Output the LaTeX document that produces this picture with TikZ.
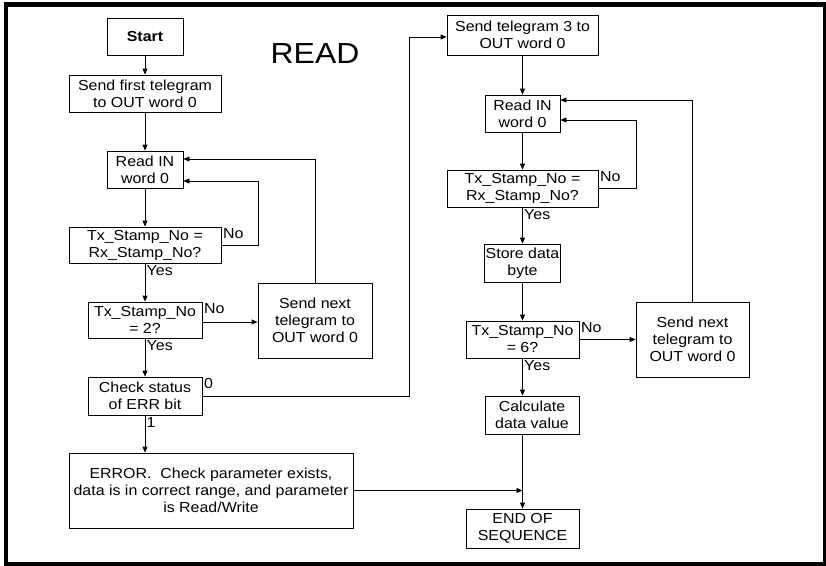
\documentclass[tikz,border=0pt]{standalone}
\usepackage{fontspec}
\setmainfont{Liberation Sans}[FakeStretch=1.1]
\usetikzlibrary{arrows.meta}

\begin{document}
\begin{tikzpicture}[x=1pt,y=-1pt,
	box/.style={draw,line width=0.8pt,align=center,inner sep=1pt,font=\fontsize{14.5}{17}\selectfont},
	lbl/.style={inner sep=1.5pt,font=\fontsize{14.5}{17}\selectfont},
	arr/.style={-{Triangle[length=6pt,width=5pt]},line width=0.8pt}]
	\useasboundingbox (0,0) rectangle (826,565);
	\draw[line width=4.5pt] (6,4.5) rectangle (825,564);
	\node (title) at (315,54) {\fontsize{29}{32}\selectfont READ};
	\node[box,minimum width=76pt,minimum height=37pt] (start) at (145,36.5) {\textbf{Start}};
	\node[box,minimum width=152pt,minimum height=37pt] (send1) at (145,93.5) {Send first telegram\\to OUT word 0};
	\node[box,minimum width=76pt,minimum height=37pt] (readA) at (145,169.5) {Read IN\\word 0};
	\node[box,minimum width=152pt,minimum height=36pt] (cmpA) at (145,245) {Tx\_Stamp\_No =\\Rx\_Stamp\_No?};
	\node[box,minimum width=114pt,minimum height=36pt] (twoA) at (145,320) {Tx\_Stamp\_No\\= 2?};
	\node[box,minimum width=114pt,minimum height=75pt] (nextA) at (315,320.5) {Send next\\telegram to\\OUT word 0};
	\node[box,minimum width=114pt,minimum height=38pt] (errbit) at (145,396) {Check status\\of ERR bit};
	\node[box,minimum width=284pt,minimum height=75pt] (error) at (211,490.5) {ERROR.\ \ Check parameter exists,\\data is in correct range, and parameter\\is Read/Write};
	\node[box,minimum width=151pt,minimum height=40pt] (send3) at (522.5,35) {Send telegram 3 to\\OUT word 0};
	\node[box,minimum width=75pt,minimum height=37pt] (readB) at (522.5,113.5) {Read IN\\word 0};
	\node[box,minimum width=151pt,minimum height=37pt] (cmpB) at (522.5,188.5) {Tx\_Stamp\_No =\\Rx\_Stamp\_No?};
	\node[box,minimum width=75pt,minimum height=38pt] (store) at (522.5,263) {Store data\\byte};
	\node[box,minimum width=113pt,minimum height=37pt] (sixB) at (522.5,339.5) {Tx\_Stamp\_No\\= 6?};
	\node[box,minimum width=113pt,minimum height=75pt] (nextB) at (692.5,339.5) {Send next\\telegram to\\OUT word 0};
	\node[box,minimum width=94pt,minimum height=38pt] (calc) at (532,415) {Calculate\\data value};
	\node[box,minimum width=113pt,minimum height=39pt] (endseq) at (522.5,528.5) {END OF\\SEQUENCE};
	\node[lbl,anchor=north west] (noA) at (cmpA.north east) {No};
	\node[lbl,anchor=north west] (yesA) at (cmpA.south) {Yes};
	\node[lbl,anchor=north west] (noTwo) at (twoA.north east) {No};
	\node[lbl,anchor=north west] (yesTwo) at (twoA.south) {Yes};
	\node[lbl,anchor=north west] (zero) at (errbit.north east) {0};
	\node[lbl,anchor=north west] (one) at (errbit.south) {1};
	\node[lbl,anchor=north west] (noB) at (cmpB.north east) {No};
	\node[lbl,anchor=north west] (yesB) at (cmpB.south) {Yes};
	\node[lbl,anchor=north west] (noSix) at (sixB.north east) {No};
	\node[lbl,anchor=north west] (yesSix) at (sixB.south) {Yes};
	\draw[arr] (start) -- (send1);
	\draw[arr] (send1) -- (readA);
	\draw[arr] (readA) -- (cmpA);
	\draw[arr] (cmpA.east) -- ++(37,0) |- ([yshift=-11.5pt]readA.east);
	\draw[arr] (cmpA) -- (twoA);
	\draw[arr] ([yshift=-2pt]twoA.east) -- ([yshift=-2pt]twoA.east -| nextA.west);
	\draw[arr] (nextA.north) |- ([yshift=10.5pt]readA.east);
	\draw[arr] (twoA) -- (errbit);
	\draw[arr] (errbit.east) -- ++(207,0) |- ([yshift=-2pt]send3.west);
	\draw[arr] (errbit.south) -- (errbit.south |- error.north);
	\draw[arr] (error.east) -- (error.east -| endseq.north);
	\draw[arr] (send3) -- (readB);
	\draw[arr] (readB) -- (cmpB);
	\draw[arr] (cmpB.east) -- ++(38,0) |- ([yshift=-6.5pt]readB.east);
	\draw[arr] (cmpB) -- (store);
	\draw[arr] (store) -- (sixB);
	\draw[arr] (sixB.east) -- (sixB.east -| nextB.west);
	\draw[arr] (nextB.north) |- ([yshift=13.5pt]readB.east);
	\draw[arr] (sixB.south) -- (sixB.south |- calc.north);
	\draw[arr] (endseq.north |- calc.south) -- (endseq.north);
\end{tikzpicture}
\end{document}
